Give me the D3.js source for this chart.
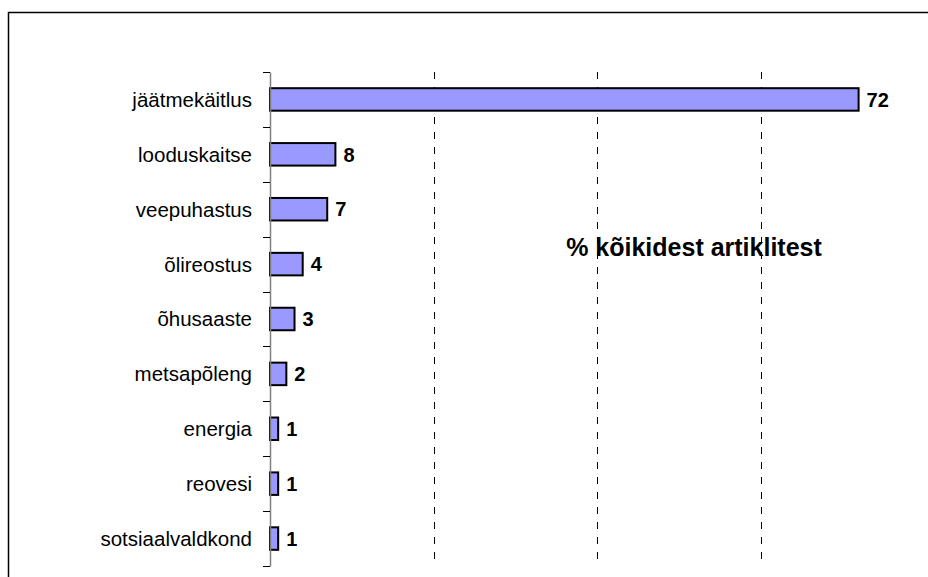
<!DOCTYPE html>
<html>
<head>
<meta charset="utf-8">
<script src="https://cdn.jsdelivr.net/npm/d3@7"></script>
<style>
  body { margin: 0; background: white; }
  text { font-family: "Liberation Sans", Arial, sans-serif; }
</style>
</head>
<body>
<div id="container"></div>
<script>
let w = 928;
let h = 577;

// data
let categories = ["jäätmekäitlus", "looduskaitse", "veepuhastus", "õlireostus", "õhusaaste",
  "metsapõleng", "energia", "reovesi", "sotsiaalvaldkond"];
let values = [72, 8, 7, 4, 3, 2, 1, 1, 1];
let gridTicks = [20, 40, 60];
let note = "% kõikidest artiklitest";

let viz = d3.select("#container").append("svg")
    .attr("width", w)
    .attr("height", h)
    .style("display", "block");

// outer frame (runs off the right and bottom edges)
viz.append("rect")
  .attr("x", 8.5).attr("y", 12.5)
  .attr("width", 960).attr("height", 620)
  .attr("fill", "white")
  .attr("stroke", "black")
  .attr("stroke-width", 1.5);

let x = d3.scaleLinear().domain([0, 80]).range([270, 924]);
let y = d3.scaleBand().domain(categories).range([72, 566]).paddingInner(0.59).paddingOuter(0.295);
let band = d3.scaleBand().domain(categories).range([72, 566]);

// dashed gridlines
viz.selectAll(".grid").data(gridTicks).enter()
  .append("line")
    .attr("class", "grid")
    .attr("x1", d => Math.round(x(d)) + 0.5)
    .attr("x2", d => Math.round(x(d)) + 0.5)
    .attr("y1", 72).attr("y2", 566)
    .attr("stroke", "black")
    .attr("stroke-dasharray", "7,8");

// bars
viz.selectAll(".bar").data(values).enter()
  .append("rect")
    .attr("class", "bar")
    .attr("x", x(0))
    .attr("y", (d, i) => y(categories[i]))
    .attr("width", d => x(d) - x(0))
    .attr("height", y.bandwidth())
    .attr("fill", "#9999ff")
    .attr("stroke", "black")
    .attr("stroke-width", 2);

// value labels
viz.selectAll(".val").data(values).enter()
  .append("text")
    .attr("class", "val")
    .attr("x", d => x(d) + 8)
    .attr("y", (d, i) => y(categories[i]) + y.bandwidth() / 2)
    .attr("dy", "0.36em")
    .attr("font-size", 20)
    .attr("font-weight", "bold")
    .text(d => d);

// category axis
let yAxis = d3.axisLeft(band).tickSize(0).tickPadding(18);
let ax = viz.append("g").attr("transform", "translate(270,0)").call(yAxis);
ax.select(".domain").attr("stroke", "#808080").attr("stroke-width", 1.5);
ax.selectAll("text").attr("font-size", 20.5).attr("fill", "black").attr("dy", "0.36em")
  .style("font-family", "'Liberation Sans', Arial, sans-serif");

// ticks between categories
let bounds = categories.map(c => band(c)).concat([566]);
viz.selectAll(".tk").data(bounds).enter()
  .append("line")
    .attr("class", "tk")
    .attr("x1", 263).attr("x2", 270)
    .attr("y1", d => Math.round(d) + 0.5)
    .attr("y2", d => Math.round(d) + 0.5)
    .attr("stroke", "black");

// annotation
viz.append("text")
  .attr("x", 694).attr("y", 256)
  .attr("text-anchor", "middle")
  .attr("font-size", 25)
  .attr("font-weight", "bold")
  .text(note);
</script>
</body>
</html>
